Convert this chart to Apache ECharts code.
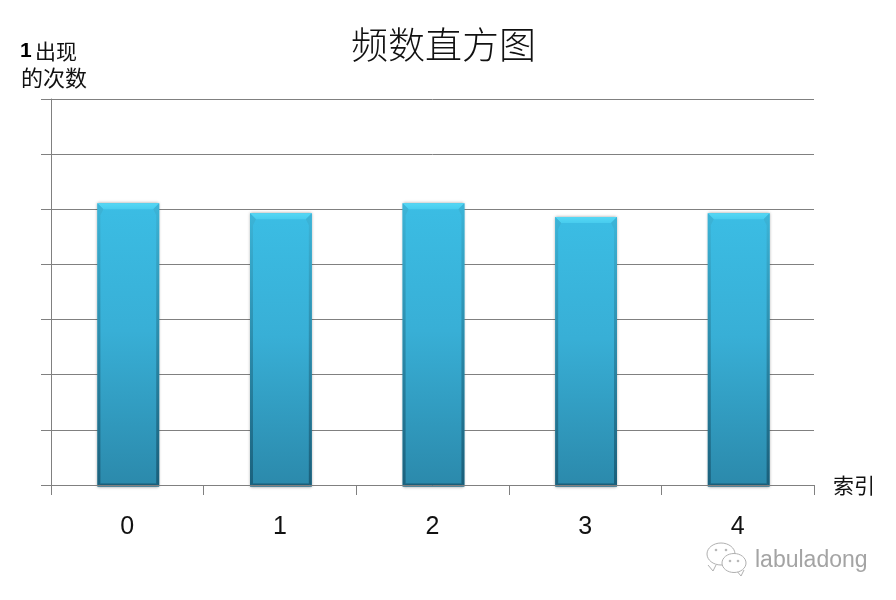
<!DOCTYPE html>
<html><head><meta charset="utf-8">
<style>html,body{margin:0;padding:0;background:#fff}#c{width:896px;height:600px}</style>
<script src="https://cdn.jsdelivr.net/npm/echarts@6/dist/echarts.min.js"></script>
</head><body><div id="c"></div>
<script>
const categories = ['0','1','2','3','4'];
const counts = [5.11, 4.93, 5.11, 4.86, 4.93];
const yMax = 7;
const titleText = '频数直方图';
const yName = ['1 出现', '的次数'];
const xName = '索引';
const watermark = 'labuladong';
const cjk = '"Noto Sans CJK SC","Liberation Sans",sans-serif';
const chart = echarts.init(document.getElementById('c'), null, {renderer:'canvas'});
const V = (a,b) => new echarts.graphic.LinearGradient(0,0,0,1,[{offset:0,color:a},{offset:1,color:b}]);
function renderBar(params, api){
  const i = api.value(0), v = api.value(1);
  const top = api.coord([i, v]), base = api.coord([i, 0]);
  const w = api.size([1,0])[0]*0.405;
  const x0 = top[0]-w/2+1, x1 = x0+w, y0 = top[1], y1 = base[1]+1.5;
  const b = 6, s = 3;
  return {type:'group',children:[
    {type:'rect',shape:{x:x0,y:y0,width:w,height:y1-y0},
     style:{fill:new echarts.graphic.LinearGradient(0,0,0,1,[
       {offset:0,color:'#3bbde4'},{offset:0.45,color:'#38afd6'},{offset:1,color:'#2b89ab'}]),
       shadowBlur:3,shadowColor:'rgba(0,0,0,0.4)'}},
    {type:'polygon',shape:{points:[[x0,y0],[x1,y0],[x1-b,y0+b],[x0+b,y0+b]]},style:{fill:V('#55d8f5','#48ccee')}},
    {type:'polygon',shape:{points:[[x0,y0],[x0+b,y0+b],[x0+s,y0+2*b],[x0+s,y1-s],[x0,y1]]},style:{fill:V('rgba(60,180,215,0.9)','rgba(20,80,105,0.7)')}},
    {type:'polygon',shape:{points:[[x1,y0],[x1-b,y0+b],[x1-s,y0+2*b],[x1-s,y1-s],[x1,y1]]},style:{fill:V('rgba(60,180,215,0.9)','rgba(20,80,105,0.75)')}},
    {type:'polygon',shape:{points:[[x0,y1],[x0+s,y1-s],[x1-s,y1-s],[x1,y1]]},style:{fill:'rgba(20,75,100,0.7)'}}
  ]};
}
function bubble(cx, cy, rx, ry, tx, ty, eyes){
  const out = [
    {type:'polyline',shape:{points:[[tx-5,ty-6],[tx,ty],[tx+3,ty-6]]},style:{fill:'#fff',stroke:'#b0b0b0',lineWidth:1},z:20},
    {type:'ellipse',shape:{cx,cy,rx,ry},style:{fill:'#fff',stroke:'#b0b0b0',lineWidth:1},z:20}
  ];
  eyes.forEach(e => out.push({type:'circle',shape:{cx:e[0],cy:e[1],r:1.3},style:{fill:'#b8b8b8'},z:21}));
  return out;
}
chart.setOption({
  animation:false,
  backgroundColor:'#fff',
  title:{text:titleText,left:346,top:21,
    textStyle:{fontFamily:cjk,fontSize:37,fontWeight:300,color:'#111'}},
  grid:{left:51,right:82,top:99,bottom:115,containLabel:false},
  xAxis:{type:'category',data:categories,boundaryGap:true,z:5,
    axisLine:{lineStyle:{color:'#808080',width:1}},
    axisTick:{show:true,length:10,alignWithLabel:false,lineStyle:{color:'#808080',width:1}},
    axisLabel:{margin:30,fontSize:25,color:'#111',fontFamily:'"Liberation Sans",sans-serif'}},
  yAxis:{type:'value',min:0,max:yMax,interval:1,
    axisLine:{show:true,lineStyle:{color:'#808080',width:1}},
    axisTick:{show:true,length:10,lineStyle:{color:'#808080',width:1}},
    axisLabel:{show:false},
    splitLine:{show:true,lineStyle:{color:'#808080',width:1}}},
  series:[{type:'custom',z:2,data:counts.map((v,i)=>[i,v]),encode:{x:0,y:1},renderItem:renderBar,clip:false}],
  graphic:{elements:[
    {type:'text',left:20,top:41,style:{rich:{b:{font:'bold 21px "Liberation Sans"',fill:'#000'},n:{font:'21px "Noto Sans CJK SC"',fill:'#111'}},text:'{b|1} {n|出现}'},z:10},
    {type:'text',left:21,top:67,style:{text:yName[1],font:'22px "Noto Sans CJK SC"',fill:'#111'},z:10},
    {type:'text',left:833,top:475,style:{text:xName,font:'21px "Noto Sans CJK SC"',fill:'#111'},z:10},
    ...bubble(721,554,14,11,713,571,[[716,550],[726,550]]),
    ...bubble(734,563,12,9.5,741,576,[[730,561],[738,561]]),
    {type:'text',left:755,top:549,style:{text:watermark,font:'23px "Liberation Sans"',fill:'#a4a4a4'},z:20}
  ]}
});
</script></body></html>
